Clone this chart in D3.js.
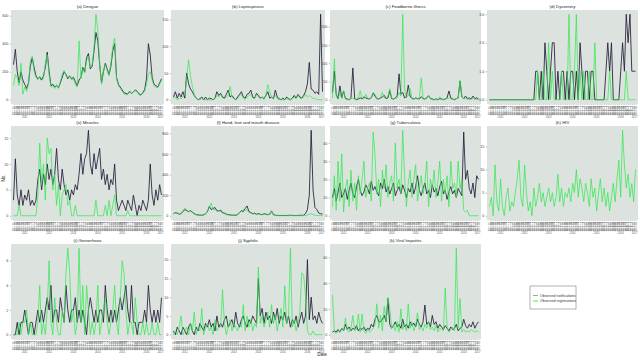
<!DOCTYPE html>
<html><head><meta charset="utf-8">
<script src="https://cdn.jsdelivr.net/npm/d3@7"></script>
<style>body{margin:0;background:#fff;} svg{display:block;font-family:"Liberation Sans",Arial,sans-serif;}</style>
</head><body><svg id="c" width="640" height="360"></svg>
<script>
const periodLabels = ["2011-01","2011-02","2011-03","2011-04","2011-05","2011-06","2011-07","2011-08","2011-09","2011-10","2011-11","2011-12","2011-13","2012-01","2012-02","2012-03","2012-04","2012-05","2012-06","2012-07","2012-08","2012-09","2012-10","2012-11","2012-12","2012-13","2013-01","2013-02","2013-03","2013-04","2013-05","2013-06","2013-07","2013-08","2013-09","2013-10","2013-11","2013-12","2013-13","2014-01","2014-02","2014-03","2014-04","2014-05","2014-06","2014-07","2014-08","2014-09","2014-10","2014-11","2014-12","2014-13","2015-01","2015-02","2015-03","2015-04","2015-05","2015-06","2015-07","2015-08","2015-09","2015-10","2015-11","2015-12","2015-13","2016-01","2016-02","2016-03","2016-04","2016-05","2016-06","2016-07","2016-08","2016-09","2016-10","2016-11","2016-12","2016-13","2017-01","2017-02"];
const yearLabels = ["2011","2012","2013","2014","2015","2016","2017"];

const diseases = ["(a) Dengue","(b) Leptospirosis","(c) Foodborne illness","(d) Dysentery","(e) Measles","(f) Hand, foot and mouth disease","(g) Tuberculosis","(h) HIV","(i) Gonorrhoea","(j) Syphilis","(k) Viral hepatitis"];
const seriesNames = ["Observed notifications","Observed registrations"];

const yTicks = [[0,200,400,600],[0,50,100,150],[0,50,100,150,200],[0,1,2,3],[0,5,10,15],[0,200,400,600,800],[0,10,20,30,40],[0,5,10,15],[0,2,4,6],[0,5,10,15,20],[0,20,40,60]];

const dengueNotif = [250,360,200,120,200,140,110,80,120,240,300,230,170,150,160,140,170,230,340,200,100,110,90,100,85,120,160,200,180,150,170,150,160,130,100,140,160,230,200,300,330,220,240,350,480,420,250,120,200,260,220,180,240,350,400,160,110,90,70,50,45,40,60,45,55,70,60,40,35,50,70,150,400,320,160,110,100,90,120,150];
const dengueReg = [100,180,160,100,260,40,90,60,110,280,310,200,160,140,170,150,150,260,320,180,90,100,80,110,80,130,180,210,170,160,170,140,150,110,90,420,150,220,190,280,310,230,250,380,610,500,260,110,210,250,210,170,260,380,440,150,100,80,60,40,35,40,55,45,60,65,55,35,30,45,60,110,180,200,140,100,90,85,110,140];

const leptoNotif = [5,15,3,12,5,15,3,50,30,20,15,8,3,0,2,5,0,5,0,3,2,0,3,15,8,12,5,3,10,18,5,8,3,0,5,10,15,5,3,10,12,18,5,3,12,8,3,5,2,8,15,3,5,2,18,5,2,0,3,0,5,2,0,3,8,3,10,5,3,8,15,30,70,20,18,12,15,10,160,15];
const leptoReg = [2,5,0,3,2,5,10,40,75,45,25,10,2,0,0,2,0,0,0,0,0,0,2,8,5,10,3,2,5,8,25,5,2,0,2,8,10,3,0,5,8,10,3,2,10,5,2,5,0,10,28,15,5,3,8,2,0,0,0,0,2,0,0,2,5,2,8,3,2,5,10,5,8,5,2,3,0,0,0,0];

const foodNotif = [20,78,15,2,38,5,24,3,2,0,5,87,3,0,2,5,2,8,5,3,2,5,18,10,3,2,5,8,12,3,5,25,3,2,5,10,71,15,20,5,8,40,10,3,2,5,3,2,8,3,2,5,11,3,2,0,2,0,3,2,0,2,5,24,5,2,0,3,5,51,8,3,10,3,5,2,10,3,5,2];
const foodReg = [5,112,10,2,20,3,25,2,0,0,2,5,0,2,5,25,3,2,15,5,3,5,20,15,5,2,8,20,5,3,10,30,5,2,3,5,20,10,234,30,5,10,30,5,2,3,2,5,60,5,2,3,10,2,0,0,2,0,8,2,0,2,3,5,2,0,2,3,5,53,10,2,3,2,0,2,3,2,0,2];

const dysNotif = [0,0,0,0,0,0,0,0,0,0,0,0,0,0,0,0,0,0,0,0,0,0,0,0,0,1,1,0,1,0,2,1,0,1,2,2,0,1,0,1,1,0,1,0,1,1,0,1,0,2,1,0,1,1,0,1,1,0,0,0,0,0,0,1,2,1,2,0,0,0,0,1,2,1,3,2,3,1,1,1];
const dysReg = [0,0,0,0,0,0,0,0,0,0,0,0,0,0,0,0,0,0,0,0,0,0,0,0,0,0,1,0,0,1,0,0,2,0,1,0,0,0,0,1,0,0,0,3,0,0,1,3,0,1,0,1,0,0,1,0,0,2,0,0,0,0,0,0,0,1,0,0,0,0,0,0,0,0,1,0,0,0,0,0];

const measNotif = [3,11,4,2,5,2,4,3,5,2,3,2,3,7,9,5,8,6,10,7,9,6,8,13,7,5,9,6,4,5,3,5,4,6,5,8,12,8,11,12,16.5,10,8,12,9,11,13,7,9,6,8,5,7,6,10,3,1,2,3,2,1,3,2,1,4,2,0,2,1,3,2,1,3,10,4,2,5,3,6,4];
const measReg = [0,0,0,2,0,0,0,0,0,0,0,0,0,4,14,6,10,3,15,12,13,5,8,2,6,0,4,5,6,2,3,0,0,2,0,0,0,0,0,0,0,0,0,0,3,0,0,0,0,2,0,3,0,2,4,0,0,0,0,0,0,1,0,0,0,0,0,0,0,0,0,0,0,0,0,0,0,0,0,0];

const hfmdNotif = [20,30,25,15,20,40,60,50,40,50,35,20,10,8,5,5,8,20,40,90,60,70,80,50,45,55,30,25,15,10,8,5,5,5,10,30,50,40,70,95,40,30,20,25,15,20,15,10,20,15,10,15,45,10,5,3,2,2,3,2,2,3,5,3,2,2,3,5,3,5,20,60,200,830,250,80,60,25,20,15];
const hfmdReg = [20,25,30,15,25,50,75,55,40,45,30,15,8,5,5,5,8,15,50,80,125,60,60,40,50,40,25,20,10,8,5,5,5,8,15,35,40,60,50,60,30,25,15,20,10,15,10,8,15,10,8,20,50,5,2,0,1,0,1,0,1,0,2,0,1,0,1,0,1,0,2,5,15,20,10,5,3,2,2,2];

const tbNotif = [10,15,8,13,18,10,12,15,9,14,18,12,10,16,20,14,11,13,17,15,12,19,14,16,13,11,18,15,20,13,16,12,15,18,11,14,16,12,17,14,10,15,13,18,12,16,22,14,11,15,18,12,14,10,17,13,15,11,16,19,12,14,9,13,16,12,14,10,15,13,11,46,20,25,15,12,18,10,22,20];
const tbReg = [5,22,3,30,8,34,2,15,20,5,25,8,18,3,22,12,20,30,10,15,18,8,46,33,12,20,5,25,15,28,10,18,22,8,40,15,20,12,47,22,5,18,25,10,20,28,8,15,22,12,18,30,5,20,15,25,10,18,30,8,20,12,22,5,30,15,18,10,30,15,20,3,2,3,0,0,0,0,0,0];

const hivReg = [2,4,0,11,3,1,8,2,0,4,6,1,3,2,5,8,12,4,2,11,5,1,3,0,6,2,4,7,3,5,2,4,6,3,5,2,4,9,3,6,2,5,4,6,3,7,5,10,4,8,6,3,7,5,2,8,4,6,1,5,8,3,6,2,5,1,4,7,3,8,12,4,18.5,11,6,9,4,7,3,10];

const gonoNotif = [0,0,1,0,1,1,2,1,0,1,1,0,1,2,1,2,1,2,3,2,4,1,2,2,1,3,2,1,4,2,1,2,2,3,1,2,1,2,1,0,2,3,2,1,2,1,2,2,1,4,2,1,2,1,2,1,2,3,2,3,4,2,1,4,1,1,0,1,1,1,2,1,4,2,1,2,1,2,1,3];
const gonoReg = [0,0,0,1,0,1,1,2,0,1,0,0,0,1,4,0,1,0,2,6,1,0,3,1,0,0,2,1,5,7,5,1,2,0,1,7,1,4,0,4,2,0,1,0,1,4,0,1,2,3,1,0,1,2,4,1,0,3,6,5,2,0,1,1,0,3,1,0,0,1,0,1,0,0,1,0,0,1,0,0];

const syphNotif = [1,0,2,1,0,2,1,0,2,3,1,0,2,1,3,2,1,3,2,4,2,3,1,5,2,3,2,4,5,2,3,4,2,6,3,2,4,5,3,2,4,3,5,4,3,15,5,7,3,6,4,5,3,6,4,7,3,5,4,6,3,5,2,4,3,5,2,4,6,3,5,20,4,10,4,5,3,6,4,3];
const syphReg = [0,1,0,2,5,0,1,2,0,3,1,6,0,2,1,7,0,2,3,1,2,0,4,1,2,2,12,3,0,2,4,1,3,2,1,3,2,8,1,5,2,4,1,3,2,18,3,5,2,4,6,2,8,3,5,1,4,7,2,13,3,5,23,2,4,1,3,6,16.5,16,10,1,0,0,1,0,0,0,0,0];

const hepNotif = [2,3,2,4,2,5,3,8,4,6,3,5,4,7,3,5,4,6,3,5,4,8,6,12,15,10,10,12,15,10,28,8,5,7,10,6,8,5,12,6,8,5,10,7,9,6,12,8,6,10,23,8,10,6,15,8,10,5,8,6,4,7,5,3,6,4,5,8,3,5,6,12,7,5,8,6,10,5,8,10];
const hepReg = [31,2,1,3,2,5,3,13,4,2,5,15,3,4,16,2,16,3,1,4,2,3,5,8,24,5,15,3,22,10,29,20,5,8,3,10,2,20,4,8,3,24,5,10,3,7,17,4,6,3,8,5,10,4,6,3,8,2,5,4,3,36,5,2,4,6,3,67,5,28,2,4,2,3,2,4,3,2,3,2];

const notifSeries = [dengueNotif,leptoNotif,foodNotif,dysNotif,measNotif,hfmdNotif,tbNotif,null,gonoNotif,syphNotif,hepNotif];
const regSeries = [dengueReg,leptoReg,foodReg,dysReg,measReg,hfmdReg,tbReg,hivReg,gonoReg,syphReg,hepReg];

// ---- layout ----
const svg = d3.select("#c");
const colX = [[11,164],[171,325],[330,481],[487,638]];
const rowY = [[10,104],[126,220],[244,339]];
const colors = {notif:"#231d38", reg:"#2fe84f", bg:"#dce3df"};

diseases.forEach((name, k) => {
  const c = k % 4, r = Math.floor(k / 4);
  const [x0,x1] = colX[c], [y0,y1] = rowY[r];
  const g = svg.append("g");
  const x = d3.scaleLinear().domain([0, periodLabels.length - 1]).range([x0 + 2.5, x1 - 2.5]);
  const vals = [].concat(regSeries[k], notifSeries[k] || []);
  const mx = d3.max(vals);
  const y = d3.scaleLinear().domain([-0.05 * mx, mx * 1.05]).range([y1, y0]);

  g.append("rect").attr("x", x0).attr("y", y0).attr("width", x1 - x0).attr("height", y1 - y0).attr("fill", colors.bg);
  g.append("text").attr("x", (x0 + x1) / 2).attr("y", y0 - 2.5).attr("text-anchor", "middle")
    .attr("font-size", 4.3).attr("fill", "#222").text(name);

  // y axis
  const ya = d3.axisLeft(y).tickValues(yTicks[k]).tickSize(1.2).tickPadding(1.5);
  const yg = g.append("g").attr("transform", `translate(${x0},0)`).call(ya);
  yg.select(".domain").remove();
  yg.selectAll("line").attr("stroke", "#444").attr("stroke-width", 0.4);
  yg.selectAll("text").attr("font-size", 3.6).attr("fill", "#444").attr("font-family", "Liberation Sans, Arial, sans-serif");

  // x axis: every period label rotated
  const xa = d3.axisBottom(x).tickValues(d3.range(periodLabels.length)).tickFormat(i => periodLabels[i]).tickSize(1).tickPadding(0.8);
  const xg = g.append("g").attr("transform", `translate(0,${y1})`).call(xa);
  xg.select(".domain").remove();
  xg.selectAll("line").attr("stroke", "#444").attr("stroke-width", 0.3);
  xg.selectAll("text").attr("font-size", 2.6).attr("fill", "#555").attr("font-family", "Liberation Sans, Arial, sans-serif")
    .attr("text-anchor", "end").attr("dy", "0.3em").attr("transform", "rotate(-90)")
    .attr("x", -1.8).attr("y", 0);

  // year row under the period labels
  yearLabels.forEach(yr => {
    const idx = periodLabels.map((p, i) => p.startsWith(yr) ? i : -1).filter(i => i >= 0);
    if (!idx.length) return;
    g.append("text").attr("x", (x(idx[0]) + x(idx[idx.length - 1])) / 2).attr("y", y1 + 13.5)
      .attr("text-anchor", "middle").attr("font-size", 2.6).attr("fill", "#555").text(yr);
  });

  const line = d3.line().x((d, i) => x(i)).y(d => y(d));
  if (notifSeries[k]) {
    g.append("path").datum(notifSeries[k]).attr("d", line).attr("fill", "none")
      .attr("stroke", colors.notif).attr("stroke-width", 1).attr("stroke-opacity", 0.85).attr("stroke-linejoin", "round");
  }
  g.append("path").datum(regSeries[k]).attr("d", line).attr("fill", "none")
    .attr("stroke", colors.reg).attr("stroke-width", 0.8).attr("stroke-opacity", 0.9).attr("stroke-linejoin", "round");
});

svg.append("text").attr("x", 322).attr("y", 356).attr("text-anchor", "middle").attr("font-size", 4.5).attr("fill", "#222").text("Date");
svg.append("text").attr("transform", "translate(5,178) rotate(-90)").attr("text-anchor", "middle").attr("font-size", 4.5).attr("fill", "#222").text("No.");

// legend
const lg = svg.append("g").attr("transform", "translate(530,286)");
lg.append("rect").attr("width", 46).attr("height", 23).attr("fill", "#fff").attr("stroke", "#666").attr("stroke-width", 0.5);
seriesNames.forEach((s, i) => {
  const yy = 9.5 + i * 5.5;
  lg.append("line").attr("x1", 3).attr("x2", 8).attr("y1", yy).attr("y2", yy)
    .attr("stroke", i === 0 ? "#9a97a6" : colors.reg).attr("stroke-width", 0.9);
  lg.append("text").attr("x", 10).attr("y", yy + 1.2).attr("font-size", 3.6).attr("fill", "#333").text(s);
});
</script></body></html>
